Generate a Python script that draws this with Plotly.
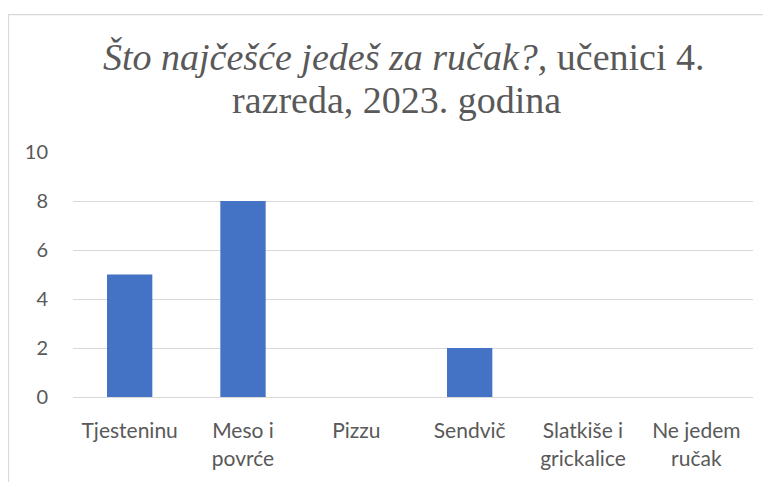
import plotly.graph_objects as go

# odgovori učenika
kategorije = ["Tjesteninu", "Meso i<br>povrće", "Pizzu", "Sendvič",
              "Slatkiše i<br>grickalice", "Ne jedem<br>ručak"]
broj_ucenika = [5, 8, 0, 2, 0, 0]
y_tickovi = [0, 2, 4, 6, 8, 10]
naslov_1 = "<i>Što najčešće jedeš za ručak?,</i> učenici 4."
naslov_2 = "razreda, 2023. godina"

siva = "#595959"

# stranica ima 8px margine tijela, pa je slika pomaknuta
W, H = 763, 474
L, R, T, B = 65, 18, 144, 82
pw, ph = W - L - R, H - T - B


def px_x(x):
    return (x - L) / pw


def px_y(y):
    return 1 - (y - T) / ph


fig = go.Figure(go.Bar(
    x=kategorije,
    y=broj_ucenika,
    marker=dict(color="#4472C4", line=dict(width=0)),
))

naslov_font = dict(family="Liberation Serif", size=38, color=siva)

fig.update_layout(
    width=W,
    height=H,
    margin=dict(l=L, r=R, t=T, b=B),
    paper_bgcolor="white",
    plot_bgcolor="white",
    bargap=0.6,
    showlegend=False,
    xaxis=dict(
        showgrid=False,
        showline=False,
        ticks="outside",
        ticklen=15,
        tickcolor="rgba(0,0,0,0)",
        tickfont=dict(family="Lato", size=21, color=siva),
    ),
    yaxis=dict(
        range=[0, 10],
        tickvals=y_tickovi,
        showgrid=True,
        gridcolor="#d9d9d9",
        gridwidth=1.3,
        zeroline=True,
        zerolinecolor="#d9d9d9",
        zerolinewidth=1.3,
        showline=False,
        ticks="outside",
        ticklen=20,
        tickcolor="rgba(0,0,0,0)",
        tickfont=dict(family="Lato", size=20, color=siva),
    ),
    annotations=[
        dict(text=naslov_1, xref="paper", yref="paper",
             x=px_x(395), y=px_y(48), xanchor="center", yanchor="middle",
             showarrow=False, font=naslov_font),
        dict(text=naslov_2, xref="paper", yref="paper",
             x=px_x(388), y=px_y(91), xanchor="center", yanchor="middle",
             showarrow=False, font=naslov_font),
    ],
    # okvir grafikona (desni i donji rub su izvan slike)
    shapes=[dict(
        type="rect", xref="paper", yref="paper",
        x0=px_x(0.5), x1=1.2,
        y0=-0.5, y1=px_y(5),
        line=dict(color="#d9d9d9", width=1.3),
        fillcolor="rgba(0,0,0,0)",
        layer="below",
    )],
)

fig.write_html("out.html")
